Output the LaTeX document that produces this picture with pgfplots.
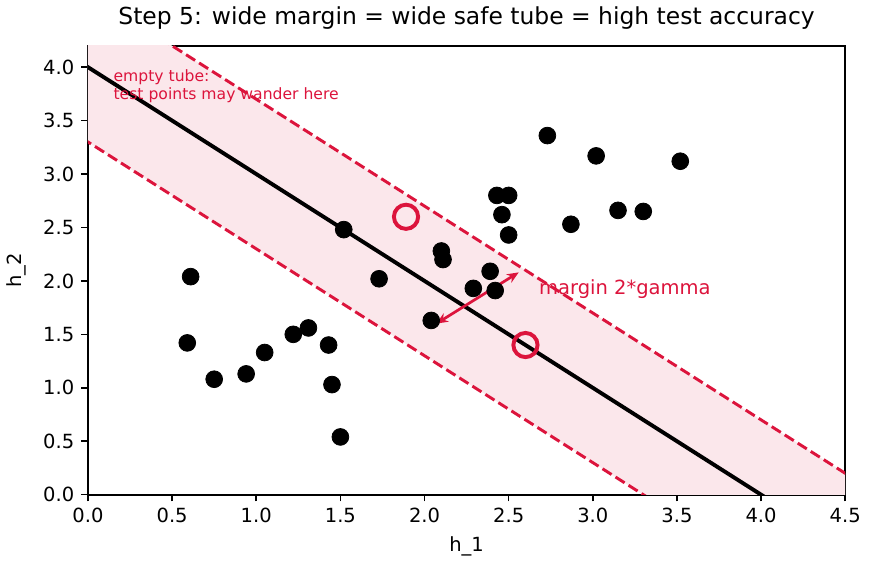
\documentclass[border=0pt]{standalone}
\usepackage{fontspec}
\setmainfont{DejaVu Sans}
\usepackage{pgfplots}
\pgfplotsset{compat=1.18}
\usetikzlibrary{arrows.meta}
\definecolor{crimson}{HTML}{DC143C}
\begin{document}
\begin{tikzpicture}
\begin{axis}[
  width=388pt, height=230pt, scale only axis,
  xmin=0, xmax=4.5, ymin=0, ymax=4.2,
  xtick={0,0.5,...,4.5}, ytick={0,0.5,...,4.0},
  /pgf/number format/assume math mode=true,
  xticklabel style={/pgf/number format/.cd, fixed, fixed zerofill, precision=1},
  yticklabel style={/pgf/number format/.cd, fixed, fixed zerofill, precision=1},
  tick label style={font=\fontsize{10}{12}\selectfont},
  tick align=outside, tick pos=left,
  major tick length=3.5pt,
  every tick/.style={black, line width=0.8pt},
  axis line style={line width=1.1pt},
  xlabel={h\_1}, ylabel={h\_2},
  label style={font=\fontsize{10}{12}\selectfont},
  ylabel style={yshift=2pt},
  title={Step 5: wide margin = wide safe tube = high test accuracy},
  title style={font=\fontsize{12}{14}\selectfont, yshift=-1pt},
  clip=true,
]
% tube
\addplot[fill=crimson!10, draw=none] coordinates {(-1,4.3) (-1,5.7) (5,-0.3) (5,-1.7)} -- cycle;
% margins
\addplot[crimson, line width=1.5pt, dash pattern=on 5.5pt off 2.4pt] coordinates {(-0.5,5.2) (5,-0.3)};
\addplot[crimson, line width=1.5pt, dash pattern=on 5.5pt off 2.4pt] coordinates {(-0.5,3.8) (5,-1.7)};
% boundary
\addplot[black, line width=2pt] coordinates {(-0.5,4.5) (4.7,-0.7)};
% training points
\addplot[only marks, mark=*, mark size=4.3pt, black, mark options={fill=black, draw=black}] coordinates {
(0.61,2.04) (0.59,1.42) (0.75,1.08) (0.94,1.13) (1.05,1.33) (1.22,1.50) (1.31,1.56)
(1.43,1.40) (1.45,1.03) (1.50,0.54) (1.52,2.48) (1.73,2.02)
(2.10,2.28) (2.11,2.20) (2.04,1.63) (2.29,1.93) (2.39,2.09) (2.42,1.91)
(2.43,2.80) (2.50,2.80) (2.46,2.62) (2.50,2.43) (2.73,3.36) (2.87,2.53)
(3.02,3.17) (3.15,2.66) (3.30,2.65) (3.52,3.12)
};
% test points
\addplot[only marks, mark=o, mark size=6.2pt, crimson, line width=2pt] coordinates {(1.89,2.60) (2.60,1.40)};
% margin arrow
\addplot[crimson, line width=1.4pt, {Stealth[length=6pt,width=5pt]}-{Stealth[length=6pt,width=5pt]}] coordinates {(2.07,1.60) (2.56,2.08)};
\node[anchor=west, text=crimson, font=\fontsize{10}{12}\selectfont] at (axis cs:2.64,1.92) {margin 2*gamma};
\node[anchor=north west, text=crimson, font=\fontsize{8}{9.4}\selectfont, align=left, inner sep=0pt] at (axis cs:0.15,3.98) {empty tube:\\test points may wander here};
\end{axis}
\path (current bounding box.south east) ++(4pt,-4pt) coordinate (pad);
\path (pad) -- (pad);
\end{tikzpicture}
\end{document}
